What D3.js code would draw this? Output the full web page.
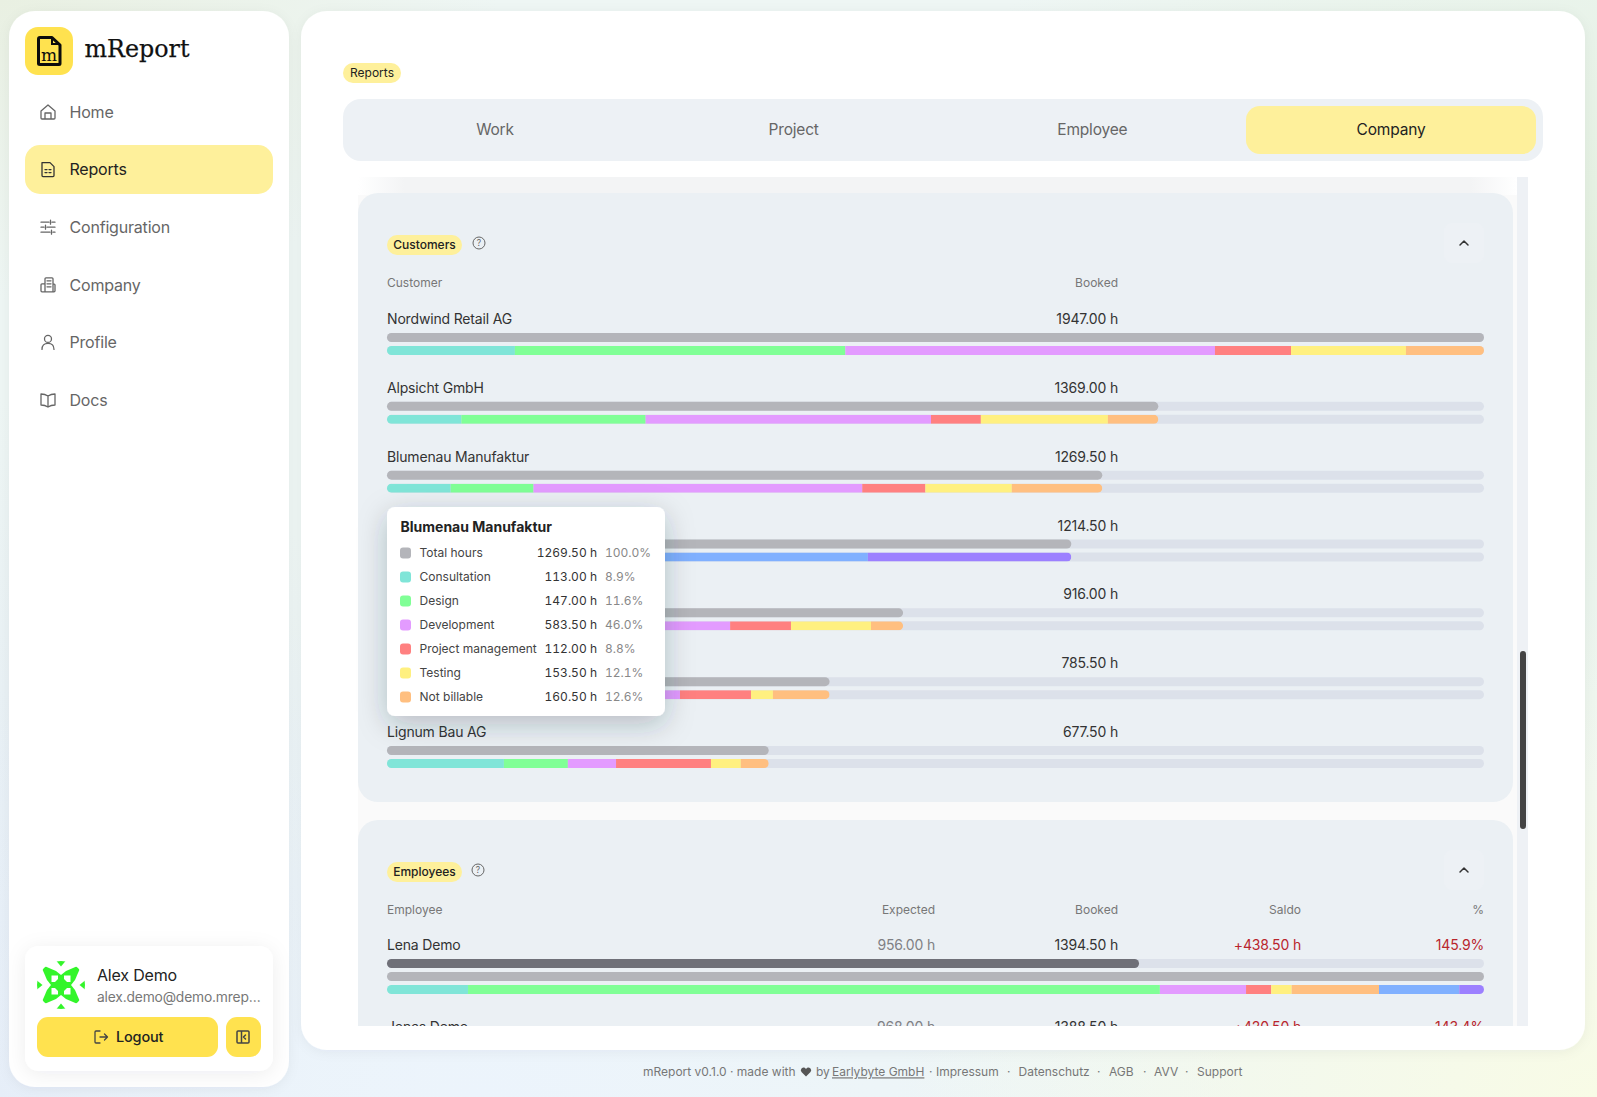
<!DOCTYPE html>
<html><head><meta charset="utf-8">
<script src="https://cdn.jsdelivr.net/npm/d3@7/dist/d3.min.js"></script>
<style>
html,body{margin:0;padding:0;width:1597px;height:1097px;overflow:hidden}
body{background:
 radial-gradient(ellipse 700px 500px at 100% 25%, #e3f0df 0%, rgba(227,240,223,0) 100%),
 radial-gradient(ellipse 700px 500px at 100% 100%, #f8fbe6 0%, rgba(248,251,230,0) 100%),
 radial-gradient(ellipse 800px 500px at 30% 100%, #ecf4fc 0%, rgba(236,244,252,0) 100%),
 radial-gradient(ellipse 500px 700px at 0% 100%, #e2eaf6 0%, rgba(226,234,246,0) 100%),
 radial-gradient(ellipse 500px 300px at 0% 0%, #e9f0e2 0%, rgba(233,240,226,0) 100%),
 #eef6f4}
svg{position:absolute;left:0;top:0;font-family:Inter,sans-serif}
.big{letter-spacing:-0.012em}
.tnum{font-variant-numeric:tabular-nums}
</style></head><body>
<svg id="c" width="1597" height="1097"></svg>
<script>
// ---------- data ----------
const navItems=["Home","Reports","Configuration","Company","Profile","Docs"];
const tabs=["Work","Project","Employee","Company"];
const categories=["Consultation","Design","Development","Project management","Testing","Not billable","Blue","Purple"];
const customerNames=["Nordwind Retail AG","Alpsicht GmbH","Blumenau Manufaktur","","","","Lignum Bau AG"];
const customerBooked=[1947,1369,1269.5,1214.5,916,785.5,677.5];
const consultation=[227,132,113,0,95,110,207.5];
const design=[586.5,327,147,0,190,180,113.5];
const development=[656,506.5,583.5,0,324,230,85.5];
const projectManagement=[135,88.5,112,0,108,126,168.5];
const testing=[204,225.5,153.5,0,142,39,53];
const notBillable=[138.5,89.5,160.5,0,57,100.5,49.5];
const blueSeries=[0,0,0,853.5,0,0,0];
const purpleSeries=[0,0,0,361,0,0,0];
const employeeNames=["Lena Demo","Jonas Demo"];
const employeeExpected=[956,968];
const employeeBooked=[1394.5,1388.5];
const employeeSaldo=[438.5,420.5];
const employeePct=[145.9,143.4];
const lenaSegments=[103,879.5,109.5,32,26,111,102,31.5];
const tooltipLabels=["Total hours","Consultation","Design","Development","Project management","Testing","Not billable"];
const tooltipHours=[1269.5,113,147,583.5,112,153.5,160.5];
const tooltipPct=[100.0,8.9,11.6,46.0,8.8,12.1,12.6];
const footerLinks=["Impressum","Datenschutz","AGB","AVV","Support"];

// ---------- palette ----------
const YEL="#fef09b",YEL2="#ffe24f",PANEL="#ebf0f4",TRACK="#dce1ea",TOTAL="#b4b5ba",DARK="#6f7078",RED="#b9252c";
const color=d3.scaleOrdinal(categories,["#80e5d8","#80ff96","#e39bff","#ff8080","#fff080","#ffbf80","#80b0ff","#9c80ff"]);

const svg=d3.select("#c");
const defs=svg.append("defs");
function shadow(id,dy,sd,op){const f=defs.append("filter").attr("id",id).attr("x","-30%").attr("y","-30%").attr("width","160%").attr("height","160%");
 f.append("feDropShadow").attr("dx",0).attr("dy",dy).attr("stdDeviation",sd).attr("flood-color","#1f2a37").attr("flood-opacity",op);}
shadow("sCard",2,6,.05);shadow("sUser",3,10,.07);shadow("sTip",8,14,.26);
const fade=defs.append("linearGradient").attr("id","fade").attr("x1",0).attr("x2",1).attr("y1",0).attr("y2",0);
[[0,"#fff"],[.04,"#f3f4f5"],[.96,"#f3f4f5"],[1,"#fff"]].forEach(d=>fade.append("stop").attr("offset",d[0]).attr("stop-color",d[1]));

function rect(p,x,y,w,h,r,fill){return p.append("rect").attr("x",x).attr("y",y).attr("width",w).attr("height",h).attr("rx",r).attr("fill",fill);}
function text(p,s,x,y,size,fill,anchor,weight){return p.append("text").text(s).attr("x",x).attr("y",y).attr("dy",".36em").attr("font-size",size).attr("fill",fill).attr("text-anchor",anchor||"start").attr("font-weight",weight||400);}
function big(p,s,x,y,size,fill,anchor,weight){return text(p,s,x,y,size,fill,anchor,weight).attr("class","big");}
function icon(p,x,y,d,col,sw){return p.append("path").attr("transform",`translate(${x},${y})`).attr("d",d).attr("fill","none").attr("stroke",col).attr("stroke-width",sw||1.4).attr("stroke-linecap","round").attr("stroke-linejoin","round");}

// ---------- sidebar ----------
const side=svg.append("g");
rect(side,9,11,280,1076,26,"#fff").attr("filter","url(#sCard)");
rect(side,25,27,48,48,13,YEL2);
icon(side,37,36,"M3 1.5H15L23 9V27.5Q23 28.5 22 28.5H3Q1.5 28.5 1.5 27.5V3Q1.5 1.5 3 1.5Z","#0c0c0c",3);
side.append("path").attr("d","M52 37V44H60").attr("fill","none").attr("stroke","#0c0c0c").attr("stroke-width",2);
side.append("text").text("m").attr("x",49).attr("y",61).attr("text-anchor","middle").attr("font-family","'DejaVu Serif',serif").attr("font-size",17).attr("fill","#0c0c0c");
side.append("text").text("mReport").attr("x",84.5).attr("y",56.5).attr("font-family","'DejaVu Serif',serif").attr("font-size",25).attr("textLength",105).attr("lengthAdjust","spacingAndGlyphs").attr("fill","#111").attr("stroke","#111").attr("stroke-width",.25);
rect(side,25,145,248,49,15,YEL);
const navY=d3.scalePoint().domain(navItems).range([112,400]);
const navIcons={
 Home:"M-7 -1L0 -7L7 -1V6Q7 7 6 7H-6Q-7 7 -7 6ZM-3 7V1H3V7",
 Reports:"M-6 -7H2L6 -3V6Q6 7 5 7H-5Q-6 7 -6 6ZM-3 0H-1M1 0H3M-3 3H-1M1 3H3",
 Configuration:"M-7 -5H1M4 -5H7M2.5 -7V-3M-7 0H-4M-1 0H7M-2.5 -2V2M-7 5H2M5 5H7M3.5 3V7",
 Company:"M-3 7V-6Q-3 -7 -2 -7H4Q5 -7 5 -6V7ZM-3 -1H-6Q-7 -1 -7 0V6Q-7 7 -6 7H6Q7 7 7 6V0Q7 -1 5 -1M-1 -4H3M-1 -1H3M-1 2H3",
 Profile:"M0 -7A3.5 3.5 0 1 1 0 0A3.5 3.5 0 1 1 0 -7ZM-6 7Q-6 1 0 1Q6 1 6 7",
 Docs:"M0 -4Q-3 -6 -7 -6V5Q-3 5 0 7Q3 5 7 5V-6Q3 -6 0 -4ZM0 -4V7"};
navItems.forEach(n=>{const y=navY(n),on=n==="Reports";
 icon(side,48,y,navIcons[n],on?"#333":"#666",1.3);
 big(side,n,69.5,y,16,on?"#222":"#666");});
// user card
rect(side,25,946,248,125,14,"#fff").attr("filter","url(#sUser)");
const av=side.append("g").attr("transform","translate(61,985)");
defs.append("clipPath").attr("id","avc").append("circle").attr("r",24);
av.attr("clip-path","url(#avc)");
[0,90,180,270].forEach(a=>{const q=av.append("g").attr("transform",`rotate(${a})`);
 q.append("path").attr("d","M-5 -24.5H5L0 -18.5Z").attr("fill","#33f52a");
 q.append("path").attr("d","M0 -10L5 -14L19 -20L20 -19L14 -5L10 0L0 0Z").attr("fill","#33f52a");
 q.append("path").attr("d","M3 -9.5L9.5 -9.5L9.5 -3L6 -3L3 -6Z").attr("fill","#fff");
});
big(side,"Alex Demo",97,975,16,"#222");
big(side,"alex.demo@demo.mrep…",97,997,13.8,"#777");
rect(side,37,1017,181,40,11,YEL2);
rect(side,226,1017,35,40,11,YEL2);
icon(side,101,1037,"M-1 -6H-5Q-6 -6 -6 -5V5Q-6 6 -5 6H-1M-1 0H6M3.5 -3L6.5 0L3.5 3","#444",1.3);
big(side,"Logout",116,1037,14.5,"#222","start",500);
icon(side,243,1037,"M-5 -6H5Q6 -6 6 -5V5Q6 6 5 6H-5Q-6 6 -6 5V-5Q-6 -6 -5 -6ZM-1.5 -6V6M2.5 -2L.5 0L2.5 2","#444",1.5);

// ---------- main card ----------
const main=svg.append("g");
rect(main,301,11,1284,1039,26,"#fff").attr("filter","url(#sCard)");
rect(main,343,63,58,20,10,YEL);
text(main,"Reports",372,73,12,"#222","middle");
rect(main,343,99,1200,62,18,"#edf1f5");
rect(main,1246,106,290,48,14,YEL);
const tabX=d3.scalePoint().domain(tabs).range([495,1391]);
tabs.forEach(t=>big(main,t,tabX(t),129.5,15.5,t==="Company"?"#222":"#666","middle"));

// scroll region
defs.append("clipPath").attr("id","scroll").append("rect").attr("x",358).attr("y",177).attr("width",1170).attr("height",849);
const sc=main.append("g").attr("clip-path","url(#scroll)");
rect(sc,358,177,1159,849,0,"#fafafa");
rect(sc,358,177,1159,18,0,"url(#fade)");
rect(sc,1517,177,11,849,0,"#eef1f5");
rect(sc,1520,651,6,178,3,"#444");

function panel(y,h,title,badgeW,chevY,helpX){
 rect(sc,358,y,1155,h,20,PANEL);
 rect(sc,387,chevY-8,badgeW,20,10,YEL);
 text(sc,title,387+badgeW/2,chevY+2,12,"#222","middle",450);
 sc.append("circle").attr("cx",helpX).attr("cy",chevY).attr("r",6).attr("fill","none").attr("stroke","#666").attr("stroke-width",1);
 text(sc,"?",helpX,chevY,8.5,"#666","middle");
 rect(sc,1444,chevY-20,40,40,8,"#edf1f5");
 icon(sc,1464,chevY,"M-4 2L0 -2L4 2","#333",1.5);
}
panel(193,609,"Customers",75,243,479);
panel(820,260,"Employees",75,870,478);

let barId=0;
function track(p,x,y,w,h,fill){return rect(p,x,y,w,h,h/2,fill);}
function stackedBar(p,scale,y,h,total,rows){
 const id="b"+(barId++);
 defs.append("clipPath").attr("id",id).append("rect").attr("x",scale(0)).attr("y",y).attr("width",scale(total)-scale(0)).attr("height",h).attr("rx",h/2);
 p.append("g").attr("clip-path",`url(#${id})`).selectAll("rect").data(rows).join("rect")
  .attr("x",d=>scale(d.x0)).attr("width",d=>scale(d.x1)-scale(d.x0)).attr("y",y).attr("height",h).attr("fill",d=>color(d.key));
}
const fmt=d3.format(".2f");

// Customers
const xCust=d3.scaleLinear().domain([0,d3.max(customerBooked)]).range([387,1484]);
const custSeries=[consultation,design,development,projectManagement,testing,notBillable,blueSeries,purpleSeries];
const custTable=customerBooked.map((_,i)=>Object.fromEntries(categories.map((c,k)=>[c,custSeries[k][i]])));
const custStack=d3.stack().keys(categories)(custTable);
const rowY=d3.scaleLinear().domain([0,6]).range([333,746]);
text(sc,"Customer",387,283,12,"#777");
text(sc,"Booked",1118,283,12,"#777","end");
customerBooked.forEach((b,i)=>{
 const y=rowY(i);
 if(customerNames[i])big(sc,customerNames[i],387,y-14,14,"#333");
 big(sc,fmt(b)+" h",1118,y-14,14,"#333","end");
 track(sc,387,y,1097,9,TRACK);
 track(sc,387,y,xCust(b)-387,9,TOTAL);
 track(sc,387,y+13,1097,9,TRACK);
 stackedBar(sc,xCust,y+13,9,b,custStack.map(s=>({key:s.key,x0:s[i][0],x1:s[i][1]})));
});

// Employees
const xEmp=d3.scaleLinear().domain([0,d3.max(employeeBooked)]).range([387,1484]);
text(sc,"Employee",387,910,12,"#777");
text(sc,"Expected",935,910,12,"#777","end");
text(sc,"Booked",1118,910,12,"#777","end");
text(sc,"Saldo",1301,910,12,"#777","end");
text(sc,"%",1484,910,12,"#777","end");
const empRowY=d3.scaleLinear().domain([0,1]).range([945,1027]);
employeeNames.forEach((n,i)=>{
 const y=empRowY(i);
 big(sc,n,387,y,14,"#333");
 big(sc,fmt(employeeExpected[i])+" h",935,y,14,"#7f8084","end");
 big(sc,fmt(employeeBooked[i])+" h",1118,y,14,"#333","end");
 big(sc,"+"+fmt(employeeSaldo[i])+" h",1301,y,14,RED,"end");
 big(sc,employeePct[i].toFixed(1)+"%",1484,y,14,RED,"end");
});
const y0=empRowY(0)+14;
track(sc,387,y0,1097,9,TRACK);
track(sc,387,y0,xEmp(employeeExpected[0])-387,9,DARK);
track(sc,387,y0+13,xEmp(employeeBooked[0])-387,9,TOTAL);
let acc=0;
stackedBar(sc,xEmp,y0+26,9,employeeBooked[0],lenaSegments.map((v,k)=>{const r={key:categories[k],x0:acc,x1:acc+v};acc+=v;return r;}));

// ---------- tooltip ----------
const tip=svg.append("g");
rect(tip,387,507,278,209,8,"#fff").attr("filter","url(#sTip)");
text(tip,customerNames[2],400.5,527,14,"#222","start",650);
const tipY=d3.scalePoint().domain(tooltipLabels).range([553,697]);
const tipColor=l=>l==="Total hours"?TOTAL:color(l);
tooltipLabels.forEach((l,i)=>{
 const y=tipY(l);
 rect(tip,400,y-5.5,11,11,3,tipColor(l));
 text(tip,l,419.5,y,12,"#444");
 text(tip,fmt(tooltipHours[i])+" h",597,y,12,"#333","end").attr("class","tnum");
 text(tip,tooltipPct[i].toFixed(1)+"%",605,y,12,"#888").attr("class","tnum");
});

// ---------- footer ----------
const foot=svg.append("g");
const FC="#777";
text(foot,"mReport v0.1.0 · made with",643,1072,12,FC);
foot.append("path").attr("transform","translate(806,1072)").attr("d","M0 4.5L-4.5 0Q-6 -2 -4.5 -3.5Q-2 -5.5 0 -3Q2 -5.5 4.5 -3.5Q6 -2 4.5 0Z").attr("fill","#555");
text(foot,"by",816,1072,12,FC);
text(foot,"Earlybyte GmbH",832,1072,12,FC).attr("text-decoration","underline");
text(foot,"·",929,1072,12,FC);
const linkX=d3.scaleOrdinal(footerLinks,[936,1018.5,1109,1154,1197]);
footerLinks.forEach((l,i)=>{text(foot,l,linkX(l),1072,12,FC);if(i<4)text(foot,"·",[1007,1097,1143,1185][i],1072,12,FC);});
</script></body></html>
